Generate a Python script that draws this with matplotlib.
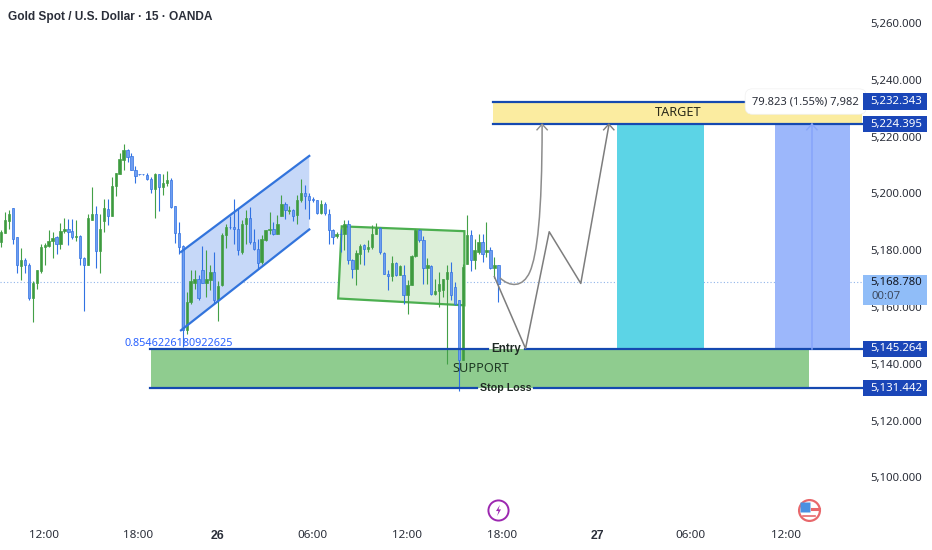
import numpy as np
import matplotlib
matplotlib.use("Agg")
import matplotlib.pyplot as plt
from matplotlib.path import Path
from matplotlib.patches import PathPatch, Polygon, Rectangle

plt.rcParams['font.family'] = ['Noto Sans', 'DejaVu Sans']
BOLD_FONT = 'Liberation Sans'

# Candles, bar 0 is the first one on the left. G = up, B = down
direction = ("GGGBBGBBGG" "GGGGBGGBBG" "BBGGBGGBGG" "GGBBBBBBBG" "BGGBBBBGGG" "BBGGBGGGBB"
             "BGGBBBGGGB" "GGBGBGGBBB" "BGBBBGBGBB" "GGBGGGBBBG" "BGBGGGBBGB" "GGGGBBBGGB" "GGBGBGB")
highs = [5187.0, 5193.5, 5194.1, 5195.0, 5184.5, 5180.9, 5177.1, 5175.6, 5169.1, 5172.9,
         5182.3, 5182.6, 5187.0, 5186.5, 5184.9, 5189.6, 5191.2, 5190.9, 5190.9, 5190.8,
         5185.3, 5177.6, 5192.9, 5202.3, 5195.6, 5192.9, 5198.2, 5198.2, 5205.9, 5207.3,
         5214.1, 5217.4, 5215.6, 5214.3, 5209.6, 5207.0, 5206.9, 5207.3, 5205.9, 5207.3,
         5207.0, 5207.0, 5208.0, 5205.3, 5195.5, 5190.0, 5181.8, 5165.3, 5173.2, 5172.9,
         5171.2, 5181.5, 5180.0, 5174.7, 5179.2, 5169.2, 5185.9, 5189.2, 5192.0, 5198.2,
         5195.0, 5190.6, 5194.3, 5195.3, 5187.6, 5184.1, 5185.5, 5187.2, 5193.5, 5189.9,
         5192.3, 5199.3, 5197.0, 5195.5, 5194.6, 5199.3, 5205.2, 5202.9, 5200.2, 5198.8,
         5197.8, 5197.6, 5197.0, 5194.6, 5187.6, 5186.4, 5187.6, 5190.5, 5190.8, 5177.0,
         5179.9, 5182.3, 5182.1, 5183.5, 5188.8, 5189.6, 5188.2, 5179.4, 5172.9, 5177.8,
         5175.8, 5174.7, 5174.7, 5169.4, 5178.2, 5187.6, 5187.6, 5184.9, 5177.4, 5174.7,
         5170.0, 5172.3, 5170.0, 5174.7, 5175.8, 5168.8, 5162.6, 5175.2, 5192.3, 5187.0,
         5184.1, 5185.8, 5185.8, 5189.9, 5181.1, 5177.6, 5174.7]
body_tops = [5186.5, 5190.6, 5192.9, 5194.7, 5184.5, 5176.7, 5176.7, 5174.9, 5168.3, 5172.9,
             5181.2, 5181.8, 5183.2, 5184.3, 5184.7, 5186.7, 5187.6, 5187.6, 5186.7, 5184.9,
             5184.9, 5177.4, 5191.2, 5192.9, 5192.9, 5187.3, 5194.7, 5194.5, 5202.6, 5207.3,
             5212.1, 5215.3, 5215.3, 5213.1, 5208.4, 5206.9, 5206.8, 5206.4, 5205.0, 5206.8,
             5206.8, 5203.7, 5204.7, 5204.7, 5195.5, 5185.9, 5181.4, 5161.6, 5169.1, 5170.0,
             5170.0, 5173.2, 5169.7, 5172.4, 5172.4, 5167.3, 5185.3, 5188.2, 5188.2, 5188.0,
             5187.3, 5189.2, 5191.2, 5191.2, 5182.9, 5180.5, 5184.1, 5187.0, 5187.6, 5187.6,
             5189.1, 5196.4, 5196.4, 5194.3, 5194.1, 5197.6, 5200.2, 5200.2, 5199.0, 5197.9,
             5197.6, 5196.4, 5196.4, 5192.9, 5187.2, 5185.8, 5185.8, 5189.1, 5189.1, 5176.7,
             5179.0, 5181.4, 5181.7, 5181.1, 5185.8, 5187.9, 5187.8, 5179.0, 5171.7, 5175.5,
             5175.5, 5174.3, 5171.1, 5167.8, 5177.8, 5187.0, 5187.2, 5183.5, 5174.7, 5174.3,
             5165.6, 5168.2, 5170.0, 5172.3, 5172.3, 5167.0, 5162.3, 5174.1, 5185.2, 5185.2,
             5180.2, 5182.9, 5182.9, 5179.9, 5180.2, 5174.7, 5174.7]
body_bottoms = [5182.9, 5186.1, 5190.3, 5184.1, 5174.9, 5174.5, 5174.9, 5163.2, 5163.0, 5168.3,
                5172.7, 5181.2, 5181.4, 5183.2, 5182.3, 5182.3, 5186.7, 5186.5, 5184.7, 5184.5,
                5177.3, 5174.7, 5174.9, 5190.6, 5179.8, 5179.8, 5190.3, 5192.0, 5192.0, 5202.6,
                5207.0, 5211.7, 5212.9, 5208.4, 5206.2, 5206.7, 5206.7, 5204.9, 5201.7, 5201.7,
                5202.3, 5202.3, 5203.7, 5195.3, 5185.9, 5181.2, 5151.8, 5151.8, 5161.6, 5168.3,
                5163.0, 5168.3, 5168.5, 5169.4, 5162.4, 5162.4, 5167.7, 5185.3, 5188.0, 5187.3,
                5180.0, 5179.4, 5189.2, 5182.9, 5180.3, 5175.5, 5175.8, 5183.7, 5187.0, 5185.8,
                5185.8, 5192.1, 5194.1, 5193.8, 5191.9, 5192.3, 5197.6, 5199.0, 5197.8, 5197.6,
                5193.2, 5193.2, 5193.2, 5187.2, 5184.7, 5184.9, 5185.6, 5185.6, 5176.4, 5173.5,
                5173.5, 5178.5, 5180.5, 5180.5, 5181.1, 5185.8, 5179.4, 5171.7, 5170.8, 5170.8,
                5171.1, 5171.1, 5164.4, 5164.4, 5167.8, 5177.8, 5183.5, 5173.8, 5173.8, 5164.7,
                5164.7, 5165.6, 5165.9, 5170.0, 5164.1, 5161.2, 5141.2, 5141.2, 5175.2, 5176.4,
                5176.7, 5179.4, 5178.5, 5179.4, 5173.8, 5173.8, 5168.2]
lows = [5181.2, 5185.9, 5187.6, 5182.3, 5172.0, 5169.4, 5172.0, 5162.6, 5154.7, 5166.5,
        5172.0, 5174.7, 5181.2, 5177.1, 5178.6, 5180.6, 5185.9, 5181.8, 5184.1, 5183.3,
        5174.7, 5158.5, 5174.7, 5190.6, 5173.9, 5172.0, 5186.5, 5188.8, 5192.0, 5199.0,
        5207.0, 5208.4, 5211.1, 5208.2, 5203.5, 5206.4, 5206.6, 5204.7, 5200.3, 5191.5,
        5193.9, 5199.4, 5202.6, 5195.0, 5182.6, 5178.8, 5145.9, 5150.4, 5161.2, 5166.5,
        5162.4, 5168.3, 5163.5, 5165.9, 5161.2, 5155.1, 5167.3, 5180.9, 5187.6, 5182.3,
        5178.2, 5178.6, 5182.3, 5182.3, 5179.9, 5173.5, 5175.2, 5183.2, 5185.8, 5185.2,
        5185.6, 5191.9, 5191.1, 5192.9, 5190.3, 5189.4, 5197.0, 5194.6, 5191.1, 5197.0,
        5192.9, 5192.9, 5192.3, 5182.3, 5182.3, 5184.4, 5179.4, 5180.0, 5175.2, 5170.3,
        5167.6, 5175.2, 5174.7, 5179.4, 5180.5, 5185.8, 5178.8, 5171.5, 5165.9, 5169.1,
        5170.8, 5171.1, 5161.1, 5157.6, 5167.6, 5177.6, 5182.9, 5168.2, 5168.2, 5164.1,
        5164.4, 5160.0, 5163.5, 5140.0, 5162.3, 5160.6, 5130.4, 5141.2, 5175.2, 5172.7,
        5173.5, 5178.8, 5175.8, 5177.6, 5173.5, 5170.3, 5161.7]

# Time axis
time_pos = [10.8, 34.65, 54.9, 78.8, 102.8, 126.9, 151.0, 174.8, 198.9]
time_labels = ["12:00", "18:00", "26", "06:00", "12:00", "18:00", "27", "06:00", "12:00"]
bold_labels = ["26", "27"]

# Price axis and levels
price_ticks = [5100, 5120, 5140, 5160, 5180, 5200, 5220, 5240, 5260]
target_top = 5232.343
target_bottom = 5224.395
entry_price = 5145.264
stop_price = 5131.442
last_price = 5168.780

# Drawings on the chart (bar, price)
channel_bars = [45.55, 78.07]
channel_upper = [5179.4, 5213.2]
channel_lower = [5151.8, 5187.3]
box_bars = [86.3, 117.4, 117.4, 85.4]
box_prices = [5188.4, 5186.7, 5160.6, 5163.0]
# start, two controls, join, two controls, end
curve_bars = [126.4, 128.9, 132.2, 134.0, 135.8, 137.1, 137.1]
curve_prices = [5170.3, 5167.0, 5166.7, 5172.4, 5178.3, 5192.4, 5223.8]
zigzag_bars = [125.0, 132.9, 138.9, 146.9, 154.0]
zigzag_prices = [5170.7, 5145.4, 5186.5, 5168.3, 5223.8]

fig = plt.figure(figsize=(9.32, 5.5), dpi=100, facecolor='white')
ax = fig.add_axes([0, 30 / 550, 864 / 932, 520 / 550])
ax.set_xlim(-0.33, 218.7)
ax.set_ylim(5268.1 - 520 / 2.84, 5268.1)
for s in ax.spines.values():
    s.set_visible(False)
ax.set_axisbelow(True)

ax.yaxis.tick_right()
ax.set_yticks(price_ticks)
ax.set_yticklabels([f"{p:,.3f}" for p in price_ticks])
ax.tick_params(axis='y', length=0, pad=4.5, labelsize=8.2, labelcolor='#2a2e39')
ax.set_xticks(time_pos)
ax.set_xticklabels(time_labels)
ax.tick_params(axis='x', length=0, pad=7, labelsize=8.4, labelcolor='#2a2e39')
for lab in ax.get_xticklabels():
    if lab.get_text() in bold_labels:
        lab.set_fontweight('bold')
        lab.set_fontfamily(BOLD_FONT)
        lab.set_fontsize(8.8)
        lab.set_y(lab.get_position()[1])
        lab.set_verticalalignment('top')

# last price dotted line
ax.axhline(last_price, color='#8fb4ea', lw=0.8, ls=(0, (1, 2)), zorder=1)

# zones
navy = '#1549b0'
ax.fill_between([37.9, 204.7], stop_price, entry_price, color='#8fcc8f', lw=0, zorder=1.5)
ax.fill_between([124.6, 218.2], target_bottom, target_top, color='#fbeca0', lw=0, zorder=1.5)
ax.fill_between([156.1, 178.1], entry_price, target_bottom, color='#5cd4e6', lw=0, zorder=1.5)
ax.fill_between([196.1, 215.1], entry_price, target_bottom, color='#9cb7fb', lw=0, zorder=1.5)

# channel and box
ax.add_patch(Polygon(list(zip(channel_bars + channel_bars[::-1], channel_upper + channel_lower[::-1])),
                     closed=True, fc='#c6d8f8', ec='none', zorder=1.6))
ax.plot(channel_bars, channel_upper, color='#3274dc', lw=1.6, zorder=4)
ax.plot(channel_bars, channel_lower, color='#3274dc', lw=1.6, zorder=4)
ax.add_patch(Polygon(list(zip(box_bars, box_prices)), closed=True, fc='#dcefd8', ec='#4caf50',
                     lw=1.6, zorder=1.6))

# candles
for i, d in enumerate(direction):
    col = '#43a047' if d == 'G' else '#3172e2'
    face = '#3f9a3f' if d == 'G' else '#6e9df0'
    ax.vlines(i, lows[i], highs[i], color=col, lw=0.8, zorder=3)
    ax.add_patch(Rectangle((i - 0.3, body_bottoms[i]), 0.6, body_tops[i] - body_bottoms[i],
                           fc=face, ec=col, lw=0.5, zorder=3.1))

# level lines, broken where the labels sit
ax.plot([124.6, 218.2], [target_top, target_top], color=navy, lw=1.6, zorder=4)
ax.plot([124.6, 218.2], [target_bottom, target_bottom], color=navy, lw=1.6, zorder=4)
ax.plot([37.7, 123.4], [entry_price, entry_price], color=navy, lw=1.6, zorder=4)
ax.plot([132.7, 218.2], [entry_price, entry_price], color=navy, lw=1.6, zorder=4)
ax.plot([37.7, 120.5], [stop_price, stop_price], color=navy, lw=1.6, zorder=4)
ax.plot([135.0, 218.2], [stop_price, stop_price], color=navy, lw=1.6, zorder=4)

# projected paths
curve_codes = [Path.MOVETO] + [Path.CURVE4] * 6
ax.add_patch(PathPatch(Path(list(zip(curve_bars, curve_prices)), curve_codes), fc='none', ec='#8c8c8c',
                       lw=1.1, zorder=5))
ax.plot(zigzag_bars, zigzag_prices, color='#7d7d7d', lw=1.1, zorder=5)
for bx, col in [(curve_bars[-1], '#8c8c8c'), (zigzag_bars[-1], '#7d7d7d'), (205.5, '#86a4fa')]:
    ax.plot([bx - 1.3, bx, bx + 1.3], [target_bottom - 2.0, target_bottom, target_bottom - 2.0],
            color=col, lw=1.0, zorder=5)
ax.plot([205.5, 205.5], [entry_price, target_bottom], color='#86a4fa', lw=1.1, zorder=5)

# texts
ax.text(128.0, entry_price, "Entry", ha='center', va='center', fontsize=8.4, fontweight='bold',
        family=BOLD_FONT, color='#1f2a24', zorder=6)
ax.text(128.0, stop_price, "Stop Loss", ha='center', va='center', fontsize=7.7, fontweight='bold',
        family=BOLD_FONT, color='#1f2a24', zorder=6)
ax.text(121.5, 5138.5, "SUPPORT", ha='center', va='center', fontsize=9.2, color='#1f3a24', zorder=6)
ax.text(171.5, 5228.4, "TARGET", ha='center', va='center', fontsize=9.2, color='#2a2a1a', zorder=6)
ax.text(45.0, 5147.0, "0.8546226180922625", ha='center', va='center', fontsize=7.8,
        color='#2962ff', zorder=6)

# tooltip
ax.text(190.4, target_top, "79.823 (1.55%) 7,982", ha='left', va='center', fontsize=8.0, color='#2a2e39',
        bbox=dict(boxstyle='round,pad=0.65', fc='white', ec='#f0f0f0', lw=0.5), zorder=7, clip_on=False)

# price badges
yt = ax.get_yaxis_transform()
for price in [target_top, target_bottom, entry_price, stop_price]:
    ax.add_patch(Rectangle((863 / 864, price - 2.9), 64 / 864, 5.8, transform=yt, fc='#1a46b8', ec='none',
                           zorder=8, clip_on=False))
    ax.text(896.5 / 864, price, f"{price:,.3f}", transform=yt, ha='center', va='center', fontsize=8.2,
            color='white', zorder=9, clip_on=False)
ax.add_patch(Rectangle((863 / 864, 5160.7), 64 / 864, 10.5, transform=yt, fc='#90bdf8', ec='none',
                       zorder=8, clip_on=False))
ax.text(896.5 / 864, last_price, f"{last_price:,.3f}", transform=yt, ha='center', va='center', fontsize=8.2,
        color='#131722', zorder=9, clip_on=False)
ax.text(871 / 864, 5163.8, "00:07", transform=yt, ha='left', va='center', fontsize=8.2, color='#3d4a60',
        zorder=9, clip_on=False)

# title
fig.text(8 / 932, 1 - 17 / 550, "Gold Spot / U.S. Dollar · 15 · OANDA", ha='left', va='center', fontsize=8.6,
         fontweight='bold', family=BOLD_FONT, color='#2a2e39')

# event icons under the candles
icon_price = 5088.5
bolt = Path([(0.25, 1), (-0.45, -0.1), (0.0, -0.1), (-0.25, -1), (0.45, 0.2), (0.0, 0.2), (0.25, 1)])
ax.plot([126.0], [icon_price], marker='o', ms=14.5, mfc='white', mec='#9c27b0', mew=1.4, clip_on=False, zorder=6)
ax.plot([126.0], [icon_price], marker=bolt, ms=8, mfc='#9c27b0', mec='#9c27b0', mew=0, clip_on=False, zorder=7)
ax.plot([204.8], [icon_price], marker='o', ms=15, mfc='white', mec='#e8686c', mew=1.6, clip_on=False, zorder=6)
ax.plot([203.8], [icon_price + 1.0], marker='s', ms=6.5, mfc='#4a90e2', mec='none', clip_on=False, zorder=7)
ax.plot([205.4, 207.2], [icon_price + 0.2, icon_price + 0.2], color='#e8686c', lw=2.2, clip_on=False, zorder=7)
ax.plot([203.2, 206.4], [icon_price - 2.0, icon_price - 2.0], color='#e8686c', lw=1.2, clip_on=False, zorder=7)

fig.savefig("out.png", dpi=100)
